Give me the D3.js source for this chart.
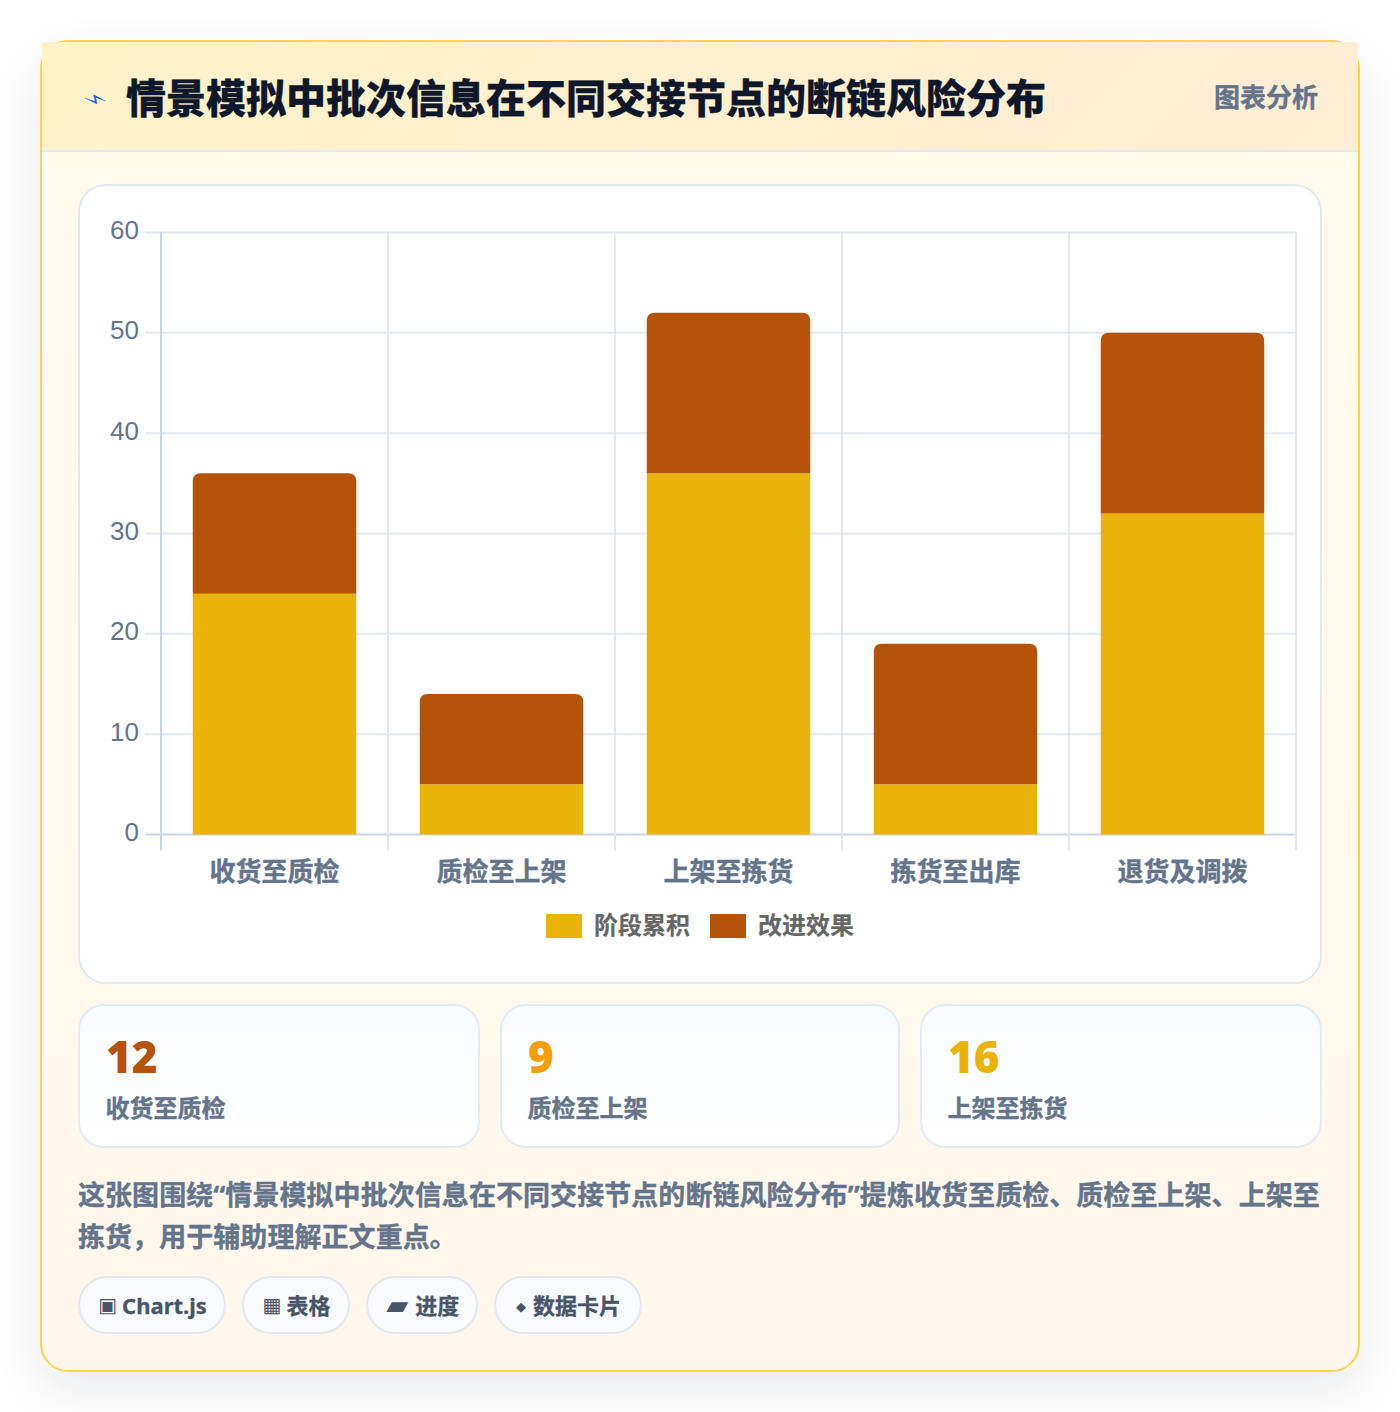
<!DOCTYPE html>
<html lang="zh">
<head>
<meta charset="utf-8">
<script src="https://cdn.jsdelivr.net/npm/d3@7"></script>
<style>
  * { box-sizing: border-box; }
  html, body { margin: 0; padding: 0; background: #fff; }
  body { width: 1400px; height: 1412px; position: relative; overflow: hidden;
    font-family: "Noto Sans", "Noto Sans CJK SC", sans-serif; }
  .abs { position: absolute; }
  #card { left: 40px; top: 40px; width: 1320px; height: 1332px; border: 2px solid #fcd34d; border-radius: 28px;
    background: linear-gradient(180deg, #fffbeb, #fff7ed); box-shadow: 0 20px 50px rgba(15,23,42,.09); }
  #head { left: 42px; top: 42px; width: 1316px; height: 110px; border-bottom: 2px solid #e2e8f0;
    background: linear-gradient(135deg, #fef3c7, #ffedd5); }
  #bolt { left: 85px; top: 85px; font: 700 25px/30px "DejaVu Sans"; color: #2563eb; transform: rotate(62deg) scale(.95, .95); transform-origin: 50% 50%; }
  #title { left: 126px; top: 68px; font-size: 40px; line-height: 60px; font-weight: 900; color: #0f172a; white-space: nowrap; -webkit-text-stroke: .3px #0f172a; }
  #tag { left: 1214px; top: 76px; font-size: 26px; line-height: 42px; font-weight: 700; color: #64748b; white-space: nowrap; -webkit-text-stroke: .4px #64748b; }
  #panel { left: 78px; top: 184px; width: 1244px; height: 800px; background: #fff; border: 2px solid #e2e8f0; border-radius: 28px; }
  svg { position: absolute; left: 0; top: 0; }
  .stat { top: 1004px; height: 144px; border: 2px solid #e2ecf8; border-radius: 26px;
    background: linear-gradient(180deg, #f8fbff, #fff); }
  .stat .num { position: absolute; left: 26px; top: 20px; font: 900 44px/60px "Noto Sans", sans-serif; }
  .stat .lab { position: absolute; left: 25.5px; top: 84px; font-size: 24px; line-height: 36px; font-weight: 700; color: #64748b; white-space: nowrap; -webkit-text-stroke: .4px #64748b; }
  #note { left: 78px; top: 1174px; width: 1244px; font-size: 27px; line-height: 42px; font-weight: 700; color: #64748b; letter-spacing: .06px; -webkit-text-stroke: .4px #64748b; }
  .pill { top: 1276px; height: 58px; border: 2px solid #e2e8f0; border-radius: 29px; background: #f8fafc;
    font-size: 22px; line-height: 54px; font-weight: 700; color: #475569; white-space: nowrap; text-align: center; -webkit-text-stroke: .3px #475569; }
  .pill b { font-family: "DejaVu Sans"; font-weight: 400; margin-right: 6px; -webkit-text-stroke: 0; display: inline-block; position: relative; top: -2px; }
  .pill.i0 b { font-size: 20px; left: 1px; }
  .pill.i1 b { font-size: 20px; left: 1px; }
  .pill.i2 b { font-size: 24px; transform: scale(1.2, 1.1); margin: 0 9px 0 3px; top: -1px; }
  .pill.i3 b { font-size: 13px; left: 1px; top: -3px; margin-right: 8px; }
</style>
</head>
<body>
<div id="card" class="abs"></div>
<div id="head" class="abs"></div>
<div id="bolt" class="abs">⚡︎</div>
<div id="title" class="abs"></div>
<div id="tag" class="abs"></div>
<div id="panel" class="abs"></div>
<svg id="viz" width="1400" height="1412"></svg>
<div id="stats"></div>
<div id="note" class="abs"></div>
<div id="pills"></div>
<script>
const titleText = '情景模拟中批次信息在不同交接节点的断链风险分布';
const tagText = '图表分析';
const categories = ['收货至质检', '质检至上架', '上架至拣货', '拣货至出库', '退货及调拨'];
const stageValues = [24, 5, 36, 5, 32];
const improveValues = [12, 9, 16, 14, 18];
const seriesNames = ['阶段累积', '改进效果'];
const seriesColors = ['#eab308', '#b45309'];
const yTicks = [0, 10, 20, 30, 40, 50, 60];
const statValues = ['12', '9', '16'];
const statLabels = ['收货至质检', '质检至上架', '上架至拣货'];
const statColors = ['#b45309', '#f59e0b', '#eab308'];
const noteText = '这张图围绕“情景模拟中批次信息在不同交接节点的断链风险分布”提炼收货至质检、质检至上架、上架至拣货，用于辅助理解正文重点。';
const pillIcons = ['▣', '▦', '▰', '◆'];
const pillLabels = ['Chart.js', '表格', '进度', '数据卡片'];

d3.select('#title').text(titleText);
d3.select('#tag').text(tagText);
d3.select('#note').text(noteText);

// Chart area
const dimensions = { left: 161, right: 1296, top: 232.5, bottom: 834.5 };
const svg = d3.select('#viz');

const xScale = d3.scaleBand()
  .domain(categories)
  .range([dimensions.left, dimensions.right]);

const yScale = d3.scaleLinear()
  .domain([0, 60])
  .range([dimensions.bottom, dimensions.top]);

const barWidth = xScale.bandwidth() * 0.72;
const barX = d => xScale(d) + (xScale.bandwidth() - barWidth) / 2;

// Grid lines
const yGrid = svg.append('g');
yGrid.selectAll('line')
  .data(yTicks)
  .join('line')
  .attr('x1', dimensions.left - 16)
  .attr('x2', dimensions.right)
  .attr('y1', d => yScale(d))
  .attr('y2', d => yScale(d))
  .attr('stroke', d => d === 0 ? '#cbd5e1' : '#e2e8f0')
  .attr('stroke-width', 2);

const xEdges = categories.map(d => xScale(d)).concat(dimensions.right);
svg.append('g').selectAll('line')
  .data(xEdges)
  .join('line')
  .attr('x1', d => d)
  .attr('x2', d => d)
  .attr('y1', dimensions.top)
  .attr('y2', dimensions.bottom + 16)
  .attr('stroke', (d, i) => i === 0 ? '#cbd5e1' : '#e2e8f0')
  .attr('stroke-width', 2);

// Stacked bars, rounded only on the top segment
const topBarPath = (x, y0, y1, w, r) =>
  `M${x},${y0}V${y1 + r}Q${x},${y1} ${x + r},${y1}H${x + w - r}Q${x + w},${y1} ${x + w},${y1 + r}V${y0}Z`;

svg.append('g').selectAll('rect')
  .data(categories)
  .join('rect')
  .attr('x', d => barX(d))
  .attr('width', barWidth)
  .attr('y', (d, i) => yScale(stageValues[i]))
  .attr('height', (d, i) => yScale(0) - yScale(stageValues[i]))
  .attr('fill', seriesColors[0]);

svg.append('g').selectAll('path')
  .data(categories)
  .join('path')
  .attr('d', (d, i) => topBarPath(barX(d), yScale(stageValues[i]), yScale(stageValues[i] + improveValues[i]), barWidth, 8))
  .attr('fill', seriesColors[1]);

// Axis labels
svg.append('g').selectAll('text')
  .data(yTicks)
  .join('text')
  .attr('x', 139)
  .attr('y', d => yScale(d) + 6.5)
  .attr('text-anchor', 'end')
  .attr('font-family', 'Liberation Sans')
  .attr('font-size', 26)
  .attr('fill', '#64748b')
  .text(d => d);

svg.append('g').selectAll('text')
  .data(categories)
  .join('text')
  .attr('x', d => xScale(d) + xScale.bandwidth() / 2)
  .attr('y', 881)
  .attr('text-anchor', 'middle')
  .attr('font-family', 'Noto Sans CJK SC')
  .attr('font-weight', 700)
  .attr('font-size', 26)
  .attr('fill', '#64748b')
  .attr('stroke', '#64748b')
  .attr('stroke-width', 0.4)
  .text(d => d);

// Legend
const legendX = [546, 710];
const legend = svg.append('g').selectAll('g')
  .data(seriesNames)
  .join('g')
  .attr('transform', (d, i) => `translate(${legendX[i]},914)`);
legend.append('rect')
  .attr('width', 36)
  .attr('height', 24)
  .attr('fill', (d, i) => seriesColors[i]);
legend.append('text')
  .attr('x', 48)
  .attr('y', 20)
  .attr('font-family', 'Noto Sans CJK SC')
  .attr('font-weight', 700)
  .attr('font-size', 24)
  .attr('fill', '#666')
  .attr('stroke', '#666')
  .attr('stroke-width', 0.2)
  .text(d => d);

// Stat cards
const statLeft = [78, 500, 920];
const statWidth = [402, 400, 402];
const stats = d3.select('#stats').selectAll('div')
  .data(statValues)
  .join('div')
  .attr('class', 'abs stat')
  .style('left', (d, i) => statLeft[i] + 'px')
  .style('width', (d, i) => statWidth[i] + 'px');
stats.append('div').attr('class', 'num').style('color', (d, i) => statColors[i]).text(d => d);
stats.append('div').attr('class', 'lab').text((d, i) => statLabels[i]);

// Pills
const pillLeft = [78, 242, 366, 494];
const pillWidth = [148, 108, 112, 148];
const pills = d3.select('#pills').selectAll('div')
  .data(pillLabels)
  .join('div')
  .attr('class', (d, i) => `abs pill i${i}`)
  .style('left', (d, i) => pillLeft[i] + 'px')
  .style('width', (d, i) => pillWidth[i] + 'px');
pills.append('b').text((d, i) => pillIcons[i]);
pills.append('span').text(d => d);
</script>
</body>
</html>
